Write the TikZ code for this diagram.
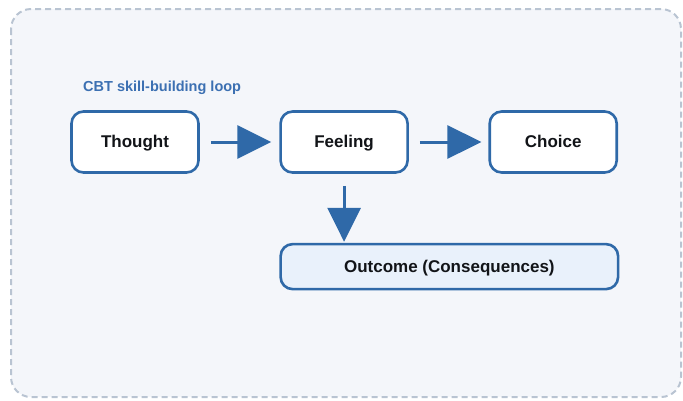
\documentclass[tikz,border=0pt]{standalone}
\usepackage{fontspec}
\setmainfont{Liberation Sans}
\usetikzlibrary{arrows.meta,positioning}

\definecolor{panelbg}{HTML}{F4F6FA}
\definecolor{paneldash}{HTML}{B9C4D2}
\definecolor{loopblue}{HTML}{2F69A8}
\definecolor{titleblue}{HTML}{3C70B2}
\definecolor{outfill}{HTML}{E9F1FB}
\definecolor{inktext}{HTML}{121418}

\tikzset{
    stepbox/.style={draw=loopblue, line width=2.6pt, fill=white, rounded corners=12pt,
        minimum width=127pt, minimum height=61pt, inner sep=0pt,
        text height=11.5pt, text depth=0.5pt,
        font=\fontsize{17}{20}\selectfont\bfseries, text=inktext},
    flow/.style={draw=loopblue, line width=3pt,
        -{Triangle[length=34pt,width=33pt]}, loopblue}
}

\begin{document}
\begin{tikzpicture}[x=1pt,y=-1pt]
    \useasboundingbox (0,0) rectangle (683,400);

    % Panel behind the loop
    \draw[paneldash, fill=panelbg, line width=2pt, dash pattern=on 6pt off 4pt,
        rounded corners=20pt] (11,9) rectangle (681,397);

    % Title
    \node[anchor=west, text=titleblue, font=\fontsize{14.5}{17}\selectfont\bfseries,
        inner sep=0pt] (title) at (83,88) {CBT skill-building loop};

    % The three steps
    \node[stepbox] (thought) at (135,142) {Thought};
    \node[stepbox, right=79.5pt of thought] (feeling) {Feeling};
    \node[stepbox, right=79.5pt of feeling] (choice) {Choice};

    % Result of the choice
    \node[stepbox, fill=outfill, minimum width=337.5pt, minimum height=45pt,
        below=69pt of feeling.south west, anchor=north west] (outcome) {Outcome (Consequences)};

    % Arrows
    \draw[flow, shorten <=11pt, shorten >=8pt] (thought) -- (feeling);
    \draw[flow, shorten <=11pt, shorten >=7pt] (feeling) -- (choice);
    \draw[flow, shorten <=12pt, shorten >=1pt] (feeling.south) -- (feeling.south |- outcome.north);
\end{tikzpicture}
\end{document}
